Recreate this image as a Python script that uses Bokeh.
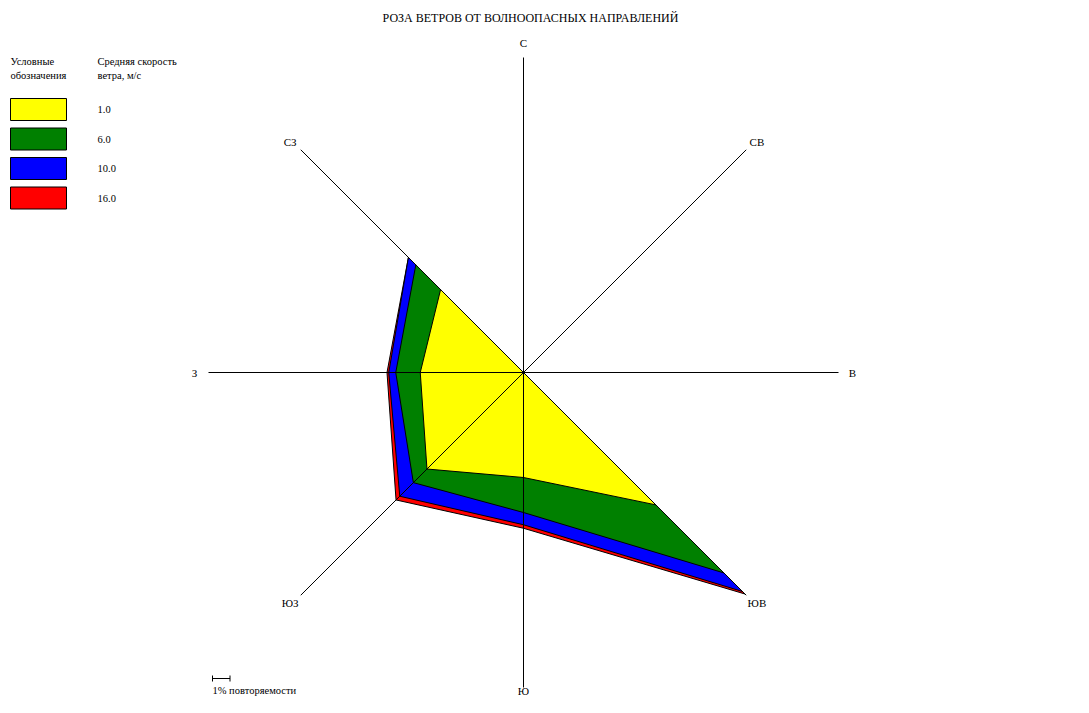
import numpy as np
from bokeh.plotting import figure
from bokeh.models import Range1d
from bokeh.core.properties import value
from bokeh.embed import file_html
from bokeh.resources import INLINE

# ---------------- data ----------------
directions = ["С", "СВ", "В", "ЮВ", "Ю", "ЮЗ", "З", "СЗ"]
angles_deg = [90, 45, 0, -45, -90, -135, 180, 135]
speeds = ["1.0", "6.0", "10.0", "16.0"]
freq_1 = [0, 0, 0, 10.7, 6.0, 7.8, 5.9, 6.7]
freq_6 = [0, 0, 0, 16.2, 8.0, 8.9, 7.3, 8.7]
freq_10 = [0, 0, 0, 17.7, 8.7, 10.0, 7.7, 9.3]
freq_16 = [0, 0, 0, 17.9, 8.9, 10.3, 7.8, 9.3]
colors = ["#ffff00", "#008000", "#0000ff", "#ff0000"]
axis_len = 18.0
title = "РОЗА ВЕТРОВ ОТ ВОЛНООПАСНЫХ НАПРАВЛЕНИЙ"
legend_head_1 = ["Условные", "обозначения"]
legend_head_2 = ["Средняя скорость", "ветра, м/с"]
scale_text = "1% повторяемости"

# ---------------- layout ----------------
W, H = 1073, 697
S = 17.5           # px per 1 %
CX, CY = 523, 372  # centre in picture px

def dx(sx):
    return (sx - CX) / S

def dy(sy):
    return (CY - sy) / S

p = figure(width=W, height=H, output_backend="svg", toolbar_location=None,
           x_range=Range1d(dx(0), dx(W)), y_range=Range1d(dy(H), dy(0)),
           min_border=0, background_fill_color="white", border_fill_color="white")
p.axis.visible = False
p.grid.visible = False
p.outline_line_color = None

FONT = value("Liberation Serif")
FS = "11px"
ang = np.radians(angles_deg)

# polygons: largest speed at the bottom
series = [freq_1, freq_6, freq_10, freq_16]
for vals, col in reversed(list(zip(series, colors))):
    r = np.array(vals, dtype=float)
    p.patch(list(r * np.cos(ang)), list(r * np.sin(ang)),
            fill_color=col, line_color="black", line_width=1)

# axes lines
for a in ang:
    p.line([0, axis_len * np.cos(a)], [0, axis_len * np.sin(a)], line_color="black", line_width=1)

# direction labels (south label kept inside the canvas)
lab_r = axis_len + 0.65
for d, a in zip(directions, ang):
    x, y = lab_r * np.cos(a), lab_r * np.sin(a)
    if abs(x) > 1:
        x += 0.15 * np.sign(x)
    if d == "Ю":
        p.text([x], [dy(H - 1)], text=[d], text_font=FONT, text_font_size=FS,
               text_align="center", text_baseline="bottom", text_color="black")
    else:
        p.text([x], [y + (0.2 if d == "С" else 0)], text=[d], text_font=FONT, text_font_size=FS,
               text_align="center", text_baseline="middle", text_color="black")

# title
p.text([dx(530)], [dy(17)], text=[title], text_font=FONT, text_font_size="12px",
       text_align="center", text_baseline="middle", text_color="black")

# legend headers
p.text([dx(10)] * 2, [dy(61), dy(75)], text=legend_head_1, text_font=FONT, text_font_size="10.5px",
       text_align="left", text_baseline="middle", text_color="black")
p.text([dx(97)] * 2, [dy(61), dy(75)], text=legend_head_2, text_font=FONT, text_font_size="10.5px",
       text_align="left", text_baseline="middle", text_color="black")

# legend boxes
box_w, box_h, pitch, top0 = 56, 22, 29.5, 98
for i, (sp, col) in enumerate(zip(speeds, colors)):
    t = top0 + i * pitch
    p.quad(left=dx(10), right=dx(10 + box_w), top=dy(t), bottom=dy(t + box_h),
           fill_color=col, line_color="black", line_width=1)
    p.text([dx(97)], [dy(t + box_h / 2)], text=[sp], text_font=FONT, text_font_size="10.5px",
           text_align="left", text_baseline="middle", text_color="black")

# scale bar (1 %)
x0 = dx(212)
yb = dy(678)
p.line([x0, x0 + 1.0], [yb, yb], line_color="black", line_width=1)
p.line([x0, x0], [yb - 3 / S, yb + 3 / S], line_color="black", line_width=1)
p.line([x0 + 1.0, x0 + 1.0], [yb - 3 / S, yb + 3 / S], line_color="black", line_width=1)
p.text([x0], [dy(H - 2)], text=[scale_text], text_font=FONT, text_font_size="10.5px",
       text_align="left", text_baseline="bottom", text_color="black")

open("out.html", "w").write(file_html(p, INLINE))
